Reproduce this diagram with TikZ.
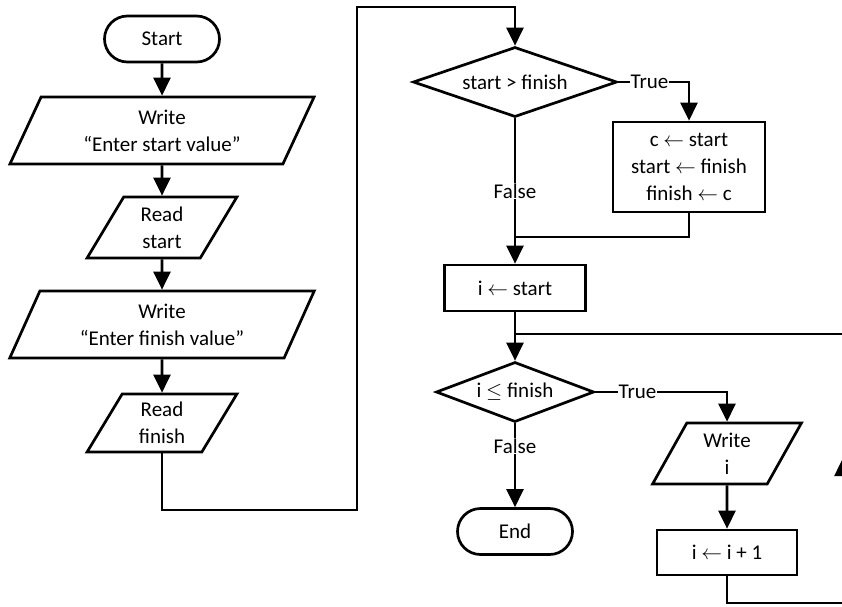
\documentclass[tikz,border=0pt]{standalone}
\usepackage{fontspec}
\setmainfont{Carlito}
\usepackage{tikz}
\usetikzlibrary{shapes.geometric, shapes.misc, arrows.meta, positioning, calc}

\begin{document}
\begin{tikzpicture}[
  x=1pt, y=-1pt,
  every node/.style={font=\fontsize{21}{27}\selectfont},
  term/.style={rounded rectangle, draw, line width=2.7pt, minimum width=115pt, minimum height=46pt, inner sep=0pt},
  io/.style={trapezium, trapezium left angle=64, trapezium right angle=116, draw, line width=2.7pt, align=center, inner sep=0pt, trapezium stretches=true},
  proc/.style={rectangle, draw, line width=2.7pt, align=center, inner sep=0pt},
  dec/.style={diamond, draw, line width=2.7pt, inner sep=0pt},
  lbl/.style={fill=white, inner sep=1pt},
  line/.style={line width=2.7pt},
  arr/.style={-{Triangle[length=18pt,width=17pt]}, line width=2.7pt}
]
  \clip (0,0) rectangle (842,606);

  % left column
  \node[term] (start) at (162,39) {Start};
  \node[io, minimum width=305pt, minimum height=67pt] (wrs) at (162,130.5) {Write\\“Enter start value”};
  \node[io, minimum width=150pt, minimum height=61pt] (rds) at (162,227.5) {Read\\start};
  \node[io, minimum width=305pt, minimum height=67pt] (wrf) at (162,324.5) {Write\\“Enter finish value”};
  \node[io, minimum width=150pt, minimum height=58pt] (rdf) at (162,423) {Read\\finish};

  % middle column
  \node[dec, aspect=3.4, minimum width=204pt, minimum height=70pt] (cmp) at (515,82) {start > finish};
  \node[proc, minimum width=152pt, minimum height=90pt] (swap) at (689,167) {c $\leftarrow$ start\\start $\leftarrow$ finish\\finish $\leftarrow$ c};
  \node[proc, minimum width=141pt, minimum height=46pt] (init) at (515,288) {i $\leftarrow$ start};
  \node[dec, aspect=3.2, minimum width=158pt, minimum height=60pt] (test) at (515,392) {i $\le$ finish};
  \node[term] (end) at (515,531.5) {End};

  % loop body
  \node[io, minimum width=150pt, minimum height=61pt] (wri) at (727,453.5) {Write\\i};
  \node[proc, minimum width=140pt, minimum height=45pt] (inc) at (727,552.5) {i $\leftarrow$ i + 1};

  \coordinate (lnA) at (357,510);
  \coordinate (lnB) at (357,7);
  \coordinate (mrg) at (515,237);
  \coordinate (join) at (515,334);
  \coordinate (lpA) at (843,603);
  \coordinate (lpB) at (843,458);
  \coordinate (lpC) at (843,334);

  \draw[arr] (start) -- (wrs);
  \draw[arr] (wrs) -- (rds);
  \draw[arr] (rds) -- (wrf);
  \draw[arr] (wrf) -- (rdf);
  \draw[arr] (rdf.south) |- (lnA) -- (lnB) -| (cmp.north);

  \draw[arr] (cmp.east) -| node[lbl, pos=0.22]{True} (swap.north);
  \draw[line] (swap.south) |- (mrg);
  \draw[arr] (cmp.south) -- node[lbl]{False} (init.north);
  \draw[arr] (init.south) -- (test.north);
  \draw[arr] (test.east) -| node[lbl, pos=0.16]{True} (wri.north);
  \draw[arr] (test.south) -- node[lbl, pos=0.27]{False} (end.north);
  \draw[arr] (wri.south) -- (inc.north);

  % back to the test
  \draw[arr] (inc.south) |- (lpA) -- (lpB);
  \draw[line] (lpB) -- (lpC) -- (join);
\end{tikzpicture}
\end{document}
